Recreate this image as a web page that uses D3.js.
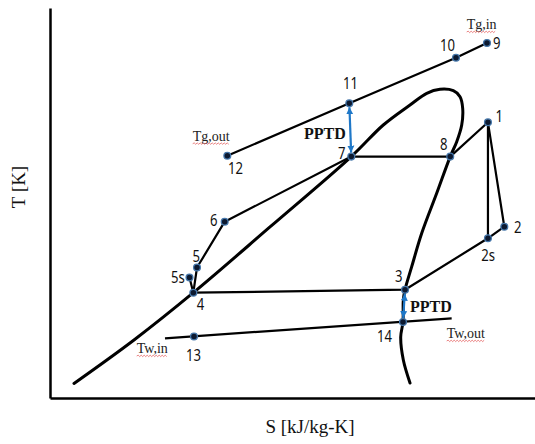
<!DOCTYPE html>
<html>
<head>
<meta charset="utf-8">
<script src="https://cdn.jsdelivr.net/npm/d3@7"></script>
<style>
  body { margin: 0; background: #fff; }
  svg { display: block; }
</style>
</head>
<body>
<svg id="chart" width="535" height="444"></svg>
<script>
// ---- Cycle state points (entropy S, temperature T in schematic units) ----
const stateIds = ["1", "2", "2s", "3", "4", "5s", "5", "6", "7", "8", "9", "10", "11", "12", "13", "14"];
const stateS   = [9.03, 9.367, 9.03, 7.320, 2.955, 2.876, 3.031, 3.602, 6.212, 8.252, 9.010, 8.371, 6.171, 3.656, 2.969, 7.278];
const stateT   = [7.069, 4.392, 4.095, 2.777, 2.700, 3.090, 3.346, 4.521, 6.19, 6.19, 9.103, 8.726, 7.556, 6.213, 1.577, 1.949];

// ---- Saturation dome of the working fluid ----
const domeS = [0.495, 1.732, 2.955, 4.536, 6.212, 6.872, 7.423, 7.767, 8.041, 8.316, 8.454, 8.509, 8.489, 8.386, 8.252,
               7.973, 7.664, 7.458, 7.320, 7.285, 7.278, 7.231, 7.285, 7.423];
const domeT = [0.372, 1.487, 2.700, 4.385, 6.19, 7.0, 7.513, 7.813, 7.915, 7.879, 7.726, 7.428, 7.0, 6.572, 6.19,
               5.249, 4.223, 3.367, 2.777, 2.513, 1.949, 1.564, 0.974, 0.385];

// ---- Cooling water line (inlet end, outlet end) ----
const waterS = [2.371, 8.282];
const waterT = [1.531, 2.044];

// ---- Processes drawn as polylines, by state id ----
const processes = [
  ["4", "5s"],
  ["4", "5", "6", "7", "8", "1", "2s"],
  ["1", "2", "2s", "3", "4"],
  ["12", "11", "10", "9"]          // hot gas
];

// ---- Pinch point temperature differences ----
const pinches = [["11", "7"], ["3", "14"]];

// ---- Stream end labels ----
const streamLabels = ["Tg,in", "Tg,out", "Tw,in", "Tw,out"];
const axisTitles = ["S [kJ/kg-K]", "T [K]"];

// ----------------------------------------------------------------
const svg = d3.select("#chart");
const x = d3.scaleLinear().domain([0, 10]).range([50, 535]);
const y = d3.scaleLinear().domain([0, 10]).range([398, 8]);

const pt = {};
stateIds.forEach((id, i) => { pt[id] = { s: stateS[i], t: stateT[i] }; });

const line = d3.line().x(d => x(d.s)).y(d => y(d.t));

// Axes without ticks
svg.append("g").attr("transform", `translate(0,${y(0)})`)
  .call(d3.axisBottom(x).tickValues([]).tickSizeOuter(0))
  .select(".domain").attr("stroke", "#000").attr("stroke-width", 2.5);
svg.append("g").attr("transform", `translate(${x(0)},0)`)
  .call(d3.axisLeft(y).tickValues([]).tickSizeOuter(0))
  .select(".domain").attr("stroke", "#000").attr("stroke-width", 2.5);

// Axis titles
svg.append("text").attr("x", 310).attr("y", 433)
  .attr("text-anchor", "middle")
  .style("font-family", "'Liberation Serif', 'Times New Roman', serif")
  .style("font-size", "19px").attr("fill", "#111")
  .text(axisTitles[0]);
svg.append("text").attr("transform", "translate(25,187) rotate(-90)")
  .attr("text-anchor", "middle")
  .style("font-family", "'Liberation Serif', 'Times New Roman', serif")
  .style("font-size", "19px").attr("fill", "#111")
  .text(axisTitles[1]);

// Saturation dome
const dome = domeS.map((s, i) => ({ s, t: domeT[i] }));
svg.append("path").datum(dome)
  .attr("d", line.curve(d3.curveCatmullRom.alpha(0.5)))
  .attr("fill", "none").attr("stroke", "#000").attr("stroke-width", 3)
  .attr("stroke-linejoin", "round").attr("stroke-linecap", "round");
line.curve(d3.curveLinear);

// Cooling water line
svg.append("path").datum(waterS.map((s, i) => ({ s, t: waterT[i] })))
  .attr("d", line).attr("fill", "none").attr("stroke", "#000").attr("stroke-width", 2.2);

// Processes
svg.selectAll(".proc").data(processes).join("path")
  .attr("class", "proc")
  .attr("d", d => line(d.map(id => pt[id])))
  .attr("fill", "none").attr("stroke", "#000").attr("stroke-width", 2.2)
  .attr("stroke-linejoin", "round");

// Pinch arrows
const defs = svg.append("defs");
defs.append("marker").attr("id", "ah")
  .attr("viewBox", "0 0 10 10").attr("refX", 10).attr("refY", 5)
  .attr("markerWidth", 7).attr("markerHeight", 8).attr("markerUnits", "userSpaceOnUse")
  .attr("orient", "auto-start-reverse")
  .append("path").attr("d", "M0,0L10,5L0,10z").attr("fill", "#1f78c8");

pinches.forEach(([a, b]) => {
  const x1 = x(pt[a].s), y1 = y(pt[a].t), x2 = x(pt[b].s), y2 = y(pt[b].t);
  const len = Math.hypot(x2 - x1, y2 - y1), ux = (x2 - x1) / len, uy = (y2 - y1) / len, g = 4;
  svg.append("line")
    .attr("x1", x1 + ux * g).attr("y1", y1 + uy * g)
    .attr("x2", x2 - ux * g).attr("y2", y2 - uy * g)
    .attr("stroke", "#1f78c8").attr("stroke-width", 2.2)
    .attr("marker-start", "url(#ah)").attr("marker-end", "url(#ah)");
});

// State markers
svg.selectAll(".state").data(stateIds).join("circle")
  .attr("class", "state")
  .attr("cx", id => x(pt[id].s)).attr("cy", id => y(pt[id].t)).attr("r", 3.4)
  .attr("fill", "#0c1930").attr("stroke", "#4677aa").attr("stroke-width", 1.3);

// State number labels (offset from each marker, left edge / vertical centre)
const labelOffset = {
  "1": [7.5, -5.6], "2": [9.7, 0.6], "2s": [-6.8, 16.7], "3": [-10, -13], "4": [3.4, 11.3],
  "5s": [-18.5, -0.5], "5": [-4.5, -11.5], "6": [-14.7, -1.2], "7": [-13.3, -2.8], "8": [-10.2, -12],
  "9": [6, 0], "10": [-16, -12.7], "11": [-6.3, -20.3], "12": [0.7, 12.3], "13": [-8, 18.5], "14": [-26, 14]
};
svg.selectAll(".num").data(stateIds).join("text")
  .attr("class", "num")
  .attr("transform", id => {
    const [dx, dy] = labelOffset[id];
    return `translate(${x(pt[id].s) + dx},${y(pt[id].t) + dy + 5.7}) scale(0.82,1)`;
  })
  .style("font-family", "'Noto Sans', 'DejaVu Sans', sans-serif")
  .style("font-size", "16px").attr("fill", "#111")
  .text(id => id);

// Stream end labels with wavy underline
const serif = "'Liberation Serif', 'Times New Roman', serif";
const streamPos = [
  { ref: pt["9"], dx: -20.3, dy: -14 },
  { ref: pt["12"], dx: -34.6, dy: -15 },
  { ref: { s: waterS[0], t: waterT[0] }, dx: -28.3, dy: 14.7 },
  { ref: { s: waterS[1], t: waterT[1] }, dx: -5, dy: 19.7 }
];
streamLabels.forEach((txt, i) => {
  const p = streamPos[i];
  const lx = x(p.ref.s) + p.dx, ly = y(p.ref.t) + p.dy;
  const t = svg.append("text").attr("x", lx).attr("y", ly)
    .style("font-family", serif).style("font-size", "14px").attr("fill", "#222")
    .text(txt);
  const w = t.node().getComputedTextLength();
  let d = `M${lx},${ly + 3}`;
  for (let k = 1.5, up = true; k <= w; k += 1.5, up = !up) d += `L${lx + k},${ly + (up ? 2.2 : 3.6)}`;
  svg.append("path").attr("d", d).attr("fill", "none")
    .attr("stroke", "#e04848").attr("stroke-width", 0.8).attr("opacity", 0.85);
});

// Pinch labels
[["11", -45.3, 35.7], ["3", 5, 22.3]].forEach(([id, dx, dy]) => {
  svg.append("text")
    .attr("x", x(pt[id].s) + dx).attr("y", y(pt[id].t) + dy)
    .style("font-family", serif).style("font-size", "16px").style("font-weight", "bold")
    .attr("fill", "#111").text("PPTD");
});
</script>
</body>
</html>
